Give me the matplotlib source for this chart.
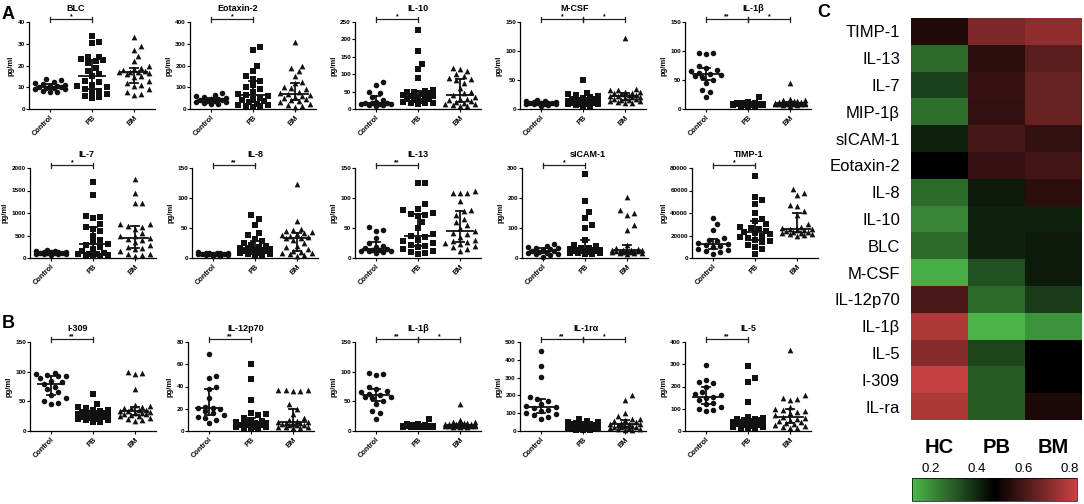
import numpy as np
import matplotlib
matplotlib.use('Agg')
import matplotlib.pyplot as plt
import matplotlib.transforms as mtrans
from matplotlib.colors import LinearSegmentedColormap, Normalize
from matplotlib.cm import ScalarMappable

plt.rcParams['font.family'] = ['Liberation Sans', 'DejaVu Sans']

groups = ['Control', 'PB', 'BM']

# ---------------- data (pg/ml) ----------------
blc_control = [14, 13.5, 12.5, 12, 11.5, 11, 10.8, 10.5, 10.2, 10, 9.8, 9.5, 9.2, 9, 8.5, 8, 7.8]
blc_pb = [33.5, 31, 30.5, 24, 24, 23, 22.5, 22, 21, 19, 17.5, 16, 15, 13, 12.5, 11, 10.5, 10, 9, 8.5, 8, 7, 6, 5.5, 5]
blc_bm = [33, 29, 27, 24.5, 22, 20, 19, 18.5, 18, 17.5, 17, 17, 16.8, 16.5, 16, 15, 14.5, 13, 12, 11, 10.5, 9, 8, 7, 6.5]

eot_control = [75, 65, 60, 55, 50, 47, 45, 42, 40, 38, 35, 33, 30, 28, 25, 22]
eot_pb = [285, 270, 200, 175, 150, 140, 130, 110, 100, 90, 80, 70, 65, 60, 50, 45, 40, 35, 30, 25, 20, 18, 15, 12, 10]
eot_bm = [310, 200, 190, 175, 150, 125, 120, 100, 95, 90, 80, 75, 68, 65, 60, 55, 50, 45, 40, 35, 30, 25, 20, 15, 10]

il10_control = [78, 68, 50, 45, 35, 25, 20, 18, 17, 16, 15, 14, 13, 12, 11, 10]
il10_pb = [228, 168, 130, 115, 88, 55, 52, 50, 48, 45, 42, 40, 38, 36, 35, 33, 30, 28, 25, 22, 20, 18, 17, 16, 15]
il10_bm = [118, 115, 110, 100, 95, 90, 85, 82, 75, 60, 50, 45, 40, 35, 30, 28, 25, 22, 20, 18, 15, 13, 12, 10, 8]

mcsf_control = [15, 14, 13, 12, 12, 11, 11, 10, 10, 10, 9, 9, 8, 8, 7, 6]
mcsf_pb = [50, 28, 26, 24, 22, 20, 19, 18, 17, 16, 15, 14, 14, 13, 12, 11, 10, 10, 9, 9, 8, 8, 7, 6, 5]
mcsf_bm = [123, 35, 33, 32, 30, 29, 28, 27, 26, 25, 24, 23, 22, 21, 20, 19, 18, 17, 16, 15, 14, 13, 12, 11, 10]

il1b_control = [97, 96, 95, 75, 70, 67, 65, 62, 60, 58, 57, 55, 50, 45, 33, 30, 20]
il1b_pb = [20, 12, 11, 10, 10, 10, 9, 9, 9, 9, 9, 8, 8, 8, 8, 8, 8, 7, 7, 7, 7, 7, 6, 6, 6]
il1b_bm = [45, 18, 16, 15, 14, 13, 12, 12, 11, 11, 11, 10, 10, 10, 10, 9, 9, 9, 9, 8, 8, 8, 7, 7, 6]

il7_control = [170, 160, 150, 140, 135, 130, 125, 120, 115, 110, 105, 100, 95, 90, 80, 70]
il7_pb = [1700, 1400, 930, 920, 900, 750, 700, 650, 600, 500, 400, 350, 320, 300, 250, 200, 150, 120, 100, 90, 80, 70, 60, 50, 40]
il7_bm = [1750, 1450, 1230, 1220, 760, 750, 720, 700, 650, 550, 500, 480, 450, 420, 400, 350, 300, 250, 220, 200, 150, 100, 80, 60, 40]

il8_control = [10, 9, 9, 8, 8, 8, 7, 7, 7, 6, 6, 6, 5, 5, 4, 4]
il8_pb = [72, 65, 55, 42, 38, 32, 28, 25, 22, 20, 18, 17, 16, 15, 14, 13, 12, 11, 10, 9, 8, 7, 6, 5, 4]
il8_bm = [123, 62, 48, 46, 45, 44, 42, 40, 38, 36, 35, 34, 33, 30, 25, 20, 18, 15, 12, 10, 9, 8, 6, 5, 3]

il13_control = [52, 46, 45, 34, 25, 20, 18, 16, 15, 14, 13, 12, 12, 11, 10, 9]
il13_pb = [125, 125, 90, 82, 80, 75, 74, 72, 70, 60, 50, 40, 36, 35, 30, 28, 25, 22, 20, 18, 15, 12, 10, 8, 6]
il13_bm = [112, 108, 108, 108, 95, 80, 78, 72, 65, 60, 55, 50, 45, 42, 40, 35, 30, 28, 26, 25, 24, 20, 18, 15, 12]

sicam_control = [48, 40, 38, 35, 32, 30, 28, 25, 22, 20, 18, 16, 14, 12, 10, 5]
sicam_pb = [280, 190, 155, 135, 110, 100, 60, 45, 40, 35, 32, 30, 28, 27, 26, 25, 24, 23, 22, 20, 18, 17, 16, 15, 14]
sicam_bm = [205, 160, 150, 145, 110, 95, 45, 35, 30, 28, 27, 26, 26, 25, 25, 24, 23, 22, 21, 20, 19, 18, 17, 16, 15]

timp_control = [36000, 30000, 25000, 18000, 16000, 15000, 13000, 12500, 12000, 11000, 10000, 8000, 7000, 6000, 5000, 4000]
timp_pb = [73000, 54000, 52000, 48000, 40000, 35000, 33000, 30000, 28000, 27000, 26000, 24000, 23000, 22000, 21000,
           20000, 19000, 18000, 16000, 15000, 14000, 12000, 10000, 8000, 4000]
timp_bm = [61000, 58000, 56000, 47000, 46000, 42000, 38000, 30000, 28000, 27000, 26000, 25500, 25000, 24500, 24000,
           23500, 23000, 22500, 22000, 21500, 21000, 20500, 20000]

i309_control = [98, 96, 95, 93, 92, 90, 85, 83, 80, 75, 70, 65, 60, 55, 50, 48, 46]
i309_pb = [62, 45, 40, 38, 36, 35, 33, 32, 31, 30, 29, 28, 28, 27, 26, 25, 24, 23, 22, 21, 20, 19, 18, 16, 15]
i309_bm = [100, 97, 96, 70, 43, 42, 40, 39, 38, 36, 35, 34, 33, 32, 31, 30, 29, 28, 27, 26, 25, 22, 20, 18, 17]

il12_control = [69, 49, 48, 40, 38, 30, 22, 21, 21, 20, 18, 16, 14, 13, 12, 10, 7]
il12_pb = [60, 47, 28, 16, 15, 14, 12, 10, 9, 8, 8, 7, 7, 6, 6, 6, 5, 5, 5, 4, 4, 4, 3, 3, 3]
il12_bm = [37, 36, 36, 37, 37, 24, 20, 15, 12, 10, 9, 8, 8, 7, 7, 6, 6, 5, 5, 5, 4, 4, 4, 3, 3]

il1ra_control = [450, 365, 305, 190, 180, 170, 150, 140, 135, 130, 120, 110, 100, 95, 90, 80, 70]
il1ra_pb = [70, 55, 50, 48, 45, 42, 40, 38, 35, 32, 30, 28, 25, 22, 20, 18, 16, 15, 14, 12, 10, 9, 8, 6, 5]
il1ra_bm = [200, 175, 100, 85, 70, 65, 60, 55, 50, 45, 42, 40, 38, 35, 30, 28, 25, 22, 20, 18, 15, 12, 10, 8, 5]

il5_control = [295, 230, 220, 215, 200, 175, 165, 160, 155, 150, 140, 125, 120, 110, 100, 95, 90]
il5_pb = [290, 240, 220, 130, 65, 60, 55, 52, 50, 48, 45, 42, 40, 38, 35, 32, 30, 28, 25, 22, 20, 18, 15, 12, 10]
il5_bm = [365, 160, 150, 145, 140, 110, 100, 95, 90, 85, 80, 70, 65, 60, 55, 50, 45, 40, 35, 30, 25, 22, 20, 15, 12]

panel_titles = ['BLC', 'Eotaxin-2', 'IL-10', 'M-CSF', 'IL-1β',
                'IL-7', 'IL-8', 'IL-13', 'sICAM-1', 'TIMP-1',
                'I-309', 'IL-12p70', 'IL-1β', 'IL-1rα', 'IL-5']
panel_ymax = [40, 400, 250, 150, 150,
              2000, 150, 150, 300, 80000,
              150, 80, 150, 500, 400]
panel_ystep = [10, 100, 50, 50, 50,
               500, 50, 50, 100, 20000,
               50, 20, 50, 100, 100]
panel_sig = [[(0, 1, '*')], [(0, 1, '*')], [(0, 1, '*')], [(0, 1, '*'), (1, 2, '*')], [(0, 1, '**'), (1, 2, '*')],
             [(0, 1, '*')], [(0, 1, '**')], [(0, 1, '**')], [(0, 1, '*')], [(0, 1, '*')],
             [(0, 1, '**')], [(0, 1, '**')], [(0, 1, '**'), (1, 2, '*')], [(0, 1, '**'), (1, 2, '*')], [(0, 1, '**')]]
panel_data = [(blc_control, blc_pb, blc_bm), (eot_control, eot_pb, eot_bm), (il10_control, il10_pb, il10_bm),
              (mcsf_control, mcsf_pb, mcsf_bm), (il1b_control, il1b_pb, il1b_bm),
              (il7_control, il7_pb, il7_bm), (il8_control, il8_pb, il8_bm), (il13_control, il13_pb, il13_bm),
              (sicam_control, sicam_pb, sicam_bm), (timp_control, timp_pb, timp_bm),
              (i309_control, i309_pb, i309_bm), (il12_control, il12_pb, il12_bm), (il1b_control, il1b_pb, il1b_bm),
              (il1ra_control, il1ra_pb, il1ra_bm), (il5_control, il5_pb, il5_bm)]

# heatmap data
hm_rows = ['TIMP-1', 'IL-13', 'IL-7', 'MIP-1β', 'sICAM-1', 'Eotaxin-2', 'IL-8', 'IL-10', 'BLC',
           'M-CSF', 'IL-12p70', 'IL-1β', 'IL-5', 'I-309', 'IL-ra']
hm_cols = ['HC', 'PB', 'BM']
hm_hc = [0.535, 0.27, 0.35, 0.26, 0.41, 0.475, 0.27, 0.22, 0.27, 0.14, 0.606, 0.784, 0.713, 0.819, 0.777]
hm_pb = [0.695, 0.555, 0.57, 0.565, 0.60, 0.57, 0.425, 0.41, 0.41, 0.32, 0.27, 0.13, 0.34, 0.30, 0.30]
hm_bm = [0.73, 0.635, 0.66, 0.66, 0.565, 0.59, 0.555, 0.41, 0.425, 0.425, 0.36, 0.19, 0.475, 0.475, 0.528]

# ---------------- layout ----------------
W, H = 1084, 504
fig = plt.figure(figsize=(W / 100, H / 100), dpi=100)

row_top_px = [22, 168, 342]
row_bot_px = [109, 258, 431]
col_left_px = [[29, 190, 355, 520, 685],
               [30, 192, 355, 522, 692],
               [30, 188, 355, 520, 685]]
title_x = [[0.37, 0.38, 0.5, 0.43, 0.54],
           [0.45, 0.5, 0.5, 0.52, 0.45],
           [0.38, 0.46, 0.5, 0.52, 0.5]]
ax_w_px = 126
markers = ['o', 's', '^']
msize = [16, 15, 17]


def swarm_offsets(vals, ymax, h_px, px_per_unit, d=6.2, max_off=0.4):
    vals = np.asarray(vals, float)
    ypx = vals / ymax * h_px
    order = np.argsort(vals)
    placed = []
    xs = np.zeros(len(vals))
    step = d * 0.6
    maxk = int(max_off * px_per_unit / step)
    cands = [0.0]
    for k in range(1, maxk + 1):
        cands += [k * step, -k * step]
    for i in order:
        best, best_d = 0.0, -1
        chosen = None
        for c in cands:
            if placed:
                pts = np.array(placed)
                dist = np.min(np.hypot(pts[:, 0] - c, pts[:, 1] - ypx[i]))
            else:
                dist = np.inf
            if dist >= d:
                chosen = c
                break
            if dist > best_d:
                best_d, best = dist, c
        if chosen is None:
            chosen = best
        placed.append((chosen, ypx[i]))
        xs[i] = chosen / px_per_unit
    return xs


for p in range(15):
    r, c = divmod(p, 5)
    left = col_left_px[r][c]
    top, bot = row_top_px[r], row_bot_px[r]
    h_px = bot - top
    ax = fig.add_axes([left / W, (H - bot) / H, ax_w_px / W, h_px / H])
    ymax = panel_ymax[p]
    ax.set_xlim(-0.5, 2.5)
    ax.set_ylim(0, ymax)
    for g in range(3):
        vals = np.asarray(panel_data[p][g], float)
        offs = swarm_offsets(vals, ymax, h_px, ax_w_px / 3.0)
        ax.scatter(g + offs, vals, s=msize[g], marker=markers[g], color='#111111',
                   linewidths=0, clip_on=False, zorder=3)
        q1, med, q3 = np.percentile(vals, [25, 50, 75])
        ax.plot([g - 0.32, g + 0.32], [med, med], color='#111111', lw=1.3, zorder=4)
        ax.plot([g, g], [q1, q3], color='#111111', lw=1.3, zorder=4)
        ax.plot([g - 0.1, g + 0.1], [q1, q1], color='#111111', lw=1.3, zorder=4)
        ax.plot([g - 0.1, g + 0.1], [q3, q3], color='#111111', lw=1.3, zorder=4)
    # significance
    trans = mtrans.blended_transform_factory(ax.transData, ax.transAxes)
    yb = 1.03
    for (i, j, lab) in panel_sig[p]:
        ax.plot([i, j], [yb, yb], color='#222222', lw=0.9, transform=trans, clip_on=False)
        for xx in (i, j):
            ax.plot([xx, xx], [yb - 0.03, yb + 0.03], color='#222222', lw=0.9,
                    transform=trans, clip_on=False)
        ax.text((i + j) / 2, yb - 0.01, lab, ha='center', va='bottom', fontsize=5,
                fontweight='bold', transform=trans)
    for s in ('top', 'right'):
        ax.spines[s].set_visible(False)
    for s in ('left', 'bottom'):
        ax.spines[s].set_linewidth(0.9)
    ax.set_yticks(np.arange(0, ymax + 1, panel_ystep[p]))
    ax.set_xticks([0, 1, 2])
    ax.set_xticklabels(groups, rotation=45, ha='right', rotation_mode='anchor',
                       fontsize=5.3, fontweight='bold')
    ax.tick_params(axis='y', length=2, width=0.8, labelsize=4.6, pad=1)
    ax.tick_params(axis='x', length=2, width=0.8, pad=1.5)
    for t in ax.get_yticklabels():
        t.set_fontweight('bold')
    ax.set_ylabel('pg/ml', fontsize=5.5, fontweight='bold', labelpad=2)
    ax.set_title(panel_titles[p], fontsize=6.5, fontweight='bold', pad=8, x=title_x[r][c])

# panel letters
fig.text(2 / W, 1 - 19 / H, 'A', fontsize=13, fontweight='bold')
fig.text(2 / W, 1 - 328 / H, 'B', fontsize=13, fontweight='bold')
fig.text(817 / W, 1 - 17 / H, 'C', fontsize=13, fontweight='bold')

# heatmap
cmap = LinearSegmentedColormap.from_list('gbr', [(0.0, '#4DB84A'), (0.5, '#000000'), (1.0, '#C94141')])
norm = Normalize(vmin=0.12, vmax=0.83)
hax = fig.add_axes([911 / W, (H - 420) / H, 171 / W, 402 / H])
mat = np.column_stack([hm_hc, hm_pb, hm_bm])
hax.imshow(mat, cmap=cmap, norm=norm, aspect='auto', interpolation='nearest')
hax.set_yticks(range(len(hm_rows)))
hax.set_yticklabels(hm_rows, fontsize=12)
hax.set_xticks([])
hax.tick_params(axis='y', length=0, pad=8)
for s in hax.spines.values():
    s.set_visible(False)
htr = mtrans.blended_transform_factory(hax.transData, hax.transAxes)
for k, lab in enumerate(hm_cols):
    hax.text(k, -0.068, lab, ha='center', va='center', fontsize=14.5, fontweight='bold', transform=htr)

cax = fig.add_axes([912 / W, 3 / H, 165 / W, 23 / H])
cb = fig.colorbar(ScalarMappable(norm=norm, cmap=cmap), cax=cax, orientation='horizontal')
cb.set_ticks([0.2, 0.4, 0.6, 0.8])
cax.xaxis.set_ticks_position('top')
cax.tick_params(axis='x', length=0, labelsize=9.5, pad=2)
cb.outline.set_linewidth(0.5)

fig.savefig('out.png', dpi=100)
